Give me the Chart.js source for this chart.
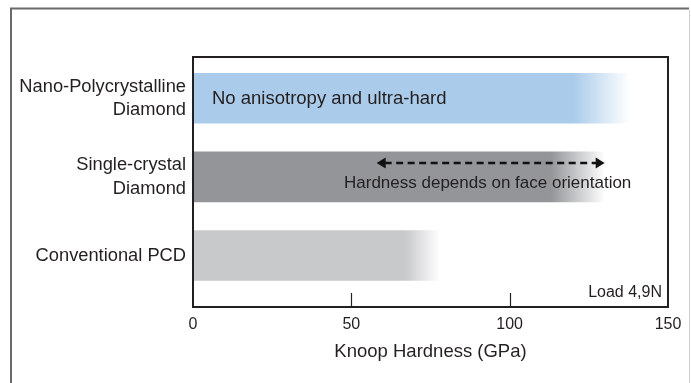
<!DOCTYPE html>
<html>
<head>
<meta charset="utf-8">
<script src="https://cdn.jsdelivr.net/npm/chart.js@4/dist/chart.umd.min.js"></script>
<style>
  body { margin: 0; background: #fff; }
  canvas { display: block; }
</style>
</head>
<body>
<canvas id="hardnessChart" width="691" height="383"></canvas>
<script>
const categories = [['Nano-Polycrystalline', 'Diamond'], ['Single-crystal', 'Diamond'], 'Conventional PCD'];
const hardness = [138, 130, 78];      // where each bar fades out
const fadeFrom = [120, 113, 67];      // where the solid colour starts to fade
const barColors = ['#aacbea', '#939598', '#c8c9cb'];
const xTicks = [0, 50, 100, 150];
const orientationRange = [58, 130];   // dashed double arrow on the single-crystal bar

const fontFamily = '"Liberation Sans", Arial, Helvetica, sans-serif';
const ink = '#231f20';

// bars fade from their colour to white at the upper end
function barGradient(ctx) {
    const chart = ctx.chart;
    const i = ctx.dataIndex;
    if (!chart.chartArea || i === undefined) return barColors[i || 0];
    const xs = chart.scales.x;
    const g = chart.ctx.createLinearGradient(xs.getPixelForValue(fadeFrom[i]), 0, xs.getPixelForValue(hardness[i]), 0);
    g.addColorStop(0, barColors[i]);
    g.addColorStop(1, '#ffffff');
    return g;
}

const frame = {
    id: 'frame',
    beforeDraw(chart) {
        const c = chart.ctx;
        c.save();
        c.strokeStyle = '#6a6a6a';
        c.lineWidth = 2;
        c.beginPath();
        c.moveTo(11, 383);
        c.lineTo(11, 8.5);
        c.lineTo(689, 8.5);
        c.stroke();
        c.strokeStyle = '#cfcfcf';
        c.lineWidth = 1;
        c.beginPath();
        c.moveTo(689.5, 10);
        c.lineTo(689.5, 383);
        c.stroke();
        c.restore();
    }
};

const notes = {
    id: 'notes',
    afterDatasetsDraw(chart) {
        const c = chart.ctx;
        const xs = chart.scales.x;
        const ys = chart.scales.y;
        const area = chart.chartArea;
        c.save();

        // plot box
        c.strokeStyle = ink;
        c.lineWidth = 2;
        c.strokeRect(area.left, area.top, area.right - area.left, area.bottom - area.top);

        // inward tick marks
        c.lineWidth = 1.2;
        xs.ticks.forEach(t => {
            if (t.value <= xs.min || t.value >= xs.max) return;
            const px = Math.round(xs.getPixelForValue(t.value)) + 0.5;
            c.beginPath();
            c.moveTo(px, area.bottom);
            c.lineTo(px, area.bottom - 14);
            c.stroke();
        });

        c.fillStyle = ink;
        c.textBaseline = 'middle';

        c.font = '18.5px ' + fontFamily;
        c.textAlign = 'left';
        c.fillText('No anisotropy and ultra-hard', xs.getPixelForValue(0) + 19, ys.getPixelForValue(0) + 1);

        // dashed double arrow
        const ay = ys.getPixelForValue(1) - 14;
        const x0 = xs.getPixelForValue(orientationRange[0]);
        const x1 = xs.getPixelForValue(orientationRange[1]);
        c.strokeStyle = '#111';
        c.lineWidth = 2.5;
        c.setLineDash([7, 4.5]);
        c.beginPath();
        c.moveTo(x0 + 8, ay);
        c.lineTo(x1 - 8, ay);
        c.stroke();
        c.setLineDash([]);
        c.fillStyle = '#111';
        c.beginPath();
        c.moveTo(x0, ay);
        c.lineTo(x0 + 9, ay - 5.5);
        c.lineTo(x0 + 9, ay + 5.5);
        c.closePath();
        c.fill();
        c.beginPath();
        c.moveTo(x1, ay);
        c.lineTo(x1 - 9, ay - 5.5);
        c.lineTo(x1 - 9, ay + 5.5);
        c.closePath();
        c.fill();

        c.fillStyle = ink;
        c.font = '17px ' + fontFamily;
        c.textAlign = 'center';
        c.fillText('Hardness depends on face orientation', (x0 + x1) / 2 - 3, ys.getPixelForValue(1) + 6);

        c.font = '16px ' + fontFamily;
        c.textAlign = 'right';
        c.fillText('Load 4,9N', area.right - 6, area.bottom - 14);
        c.restore();
    }
};

new Chart(document.getElementById('hardnessChart'), {
    type: 'bar',
    data: {
        datasets: [{
            data: hardness.map((v, i) => ({ x: v, y: i })),
            backgroundColor: barGradient,
            borderWidth: 0,
            barThickness: 50
        }]
    },
    options: {
        indexAxis: 'y',
        responsive: false,
        animation: false,
        devicePixelRatio: 1,
        layout: { padding: { top: 57, right: 23, left: 0, bottom: 0 } },
        plugins: { legend: { display: false }, tooltip: { enabled: false } },
        scales: {
            x: {
                type: 'linear',
                min: xTicks[0],
                max: xTicks[xTicks.length - 1],
                afterBuildTicks: scale => { scale.ticks = xTicks.map(v => ({ value: v })); },
                afterFit: scale => { scale.height = 76; },
                grid: { display: false },
                border: { display: false },
                ticks: { color: ink, padding: 0, font: { family: fontFamily, size: 16 } },
                title: {
                    display: true,
                    text: 'Knoop Hardness (GPa)',
                    color: ink,
                    font: { family: fontFamily, size: 18.5 },
                    padding: { top: 0, bottom: 19.5 }
                }
            },
            y: {
                type: 'linear',
                reverse: true,
                offset: false,
                min: -0.525,
                max: 2.655,
                afterBuildTicks: scale => { scale.ticks = categories.map((c, i) => ({ value: i })); },
                afterFit: scale => { scale.width = 193; },
                grid: { display: false, offset: false },
                border: { display: false },
                ticks: {
                    color: ink,
                    padding: -1,
                    font: { family: fontFamily, size: 18.3, lineHeight: 1.27 },
                    callback: v => categories[v]
                }
            }
        }
    },
    plugins: [frame, notes]
});
</script>
</body>
</html>
